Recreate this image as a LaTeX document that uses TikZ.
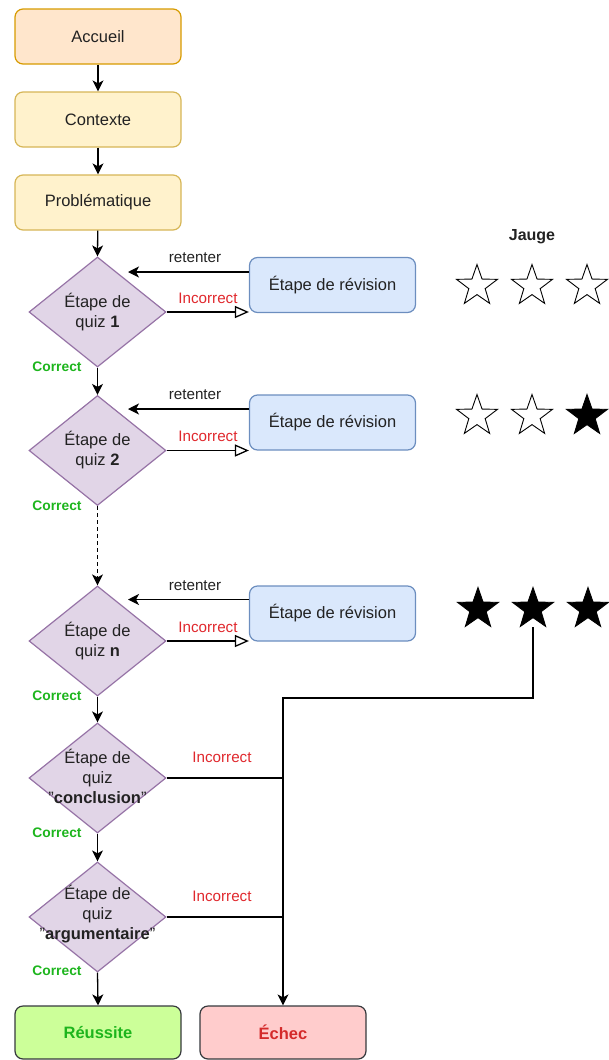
\documentclass[tikz,border=0pt]{standalone}
\usepackage{fontspec}
\setmainfont{Liberation Sans}
\usetikzlibrary{shapes.geometric,arrows.meta}
\definecolor{accF}{HTML}{FFE6CC}\definecolor{accD}{HTML}{D79B00}
\definecolor{yelF}{HTML}{FFF2CC}\definecolor{yelD}{HTML}{D6B656}
\definecolor{purF}{HTML}{E1D5E7}\definecolor{purD}{HTML}{9673A6}
\definecolor{bluF}{HTML}{DAE8FC}\definecolor{bluD}{HTML}{6C8EBF}
\definecolor{grnF}{HTML}{CCFF99}\definecolor{redF}{HTML}{FFCCCC}
\definecolor{edgeD}{HTML}{36393D}
\definecolor{txt}{HTML}{222222}
\definecolor{okG}{HTML}{1DB51D}
\definecolor{badR}{HTML}{E0282D}
\definecolor{failR}{HTML}{D42A2A}
\tikzset{
  box/.style={rectangle, rounded corners=8pt, minimum width=166pt, minimum height=55pt,
    line width=1.2pt, inner sep=0pt, font=\fontsize{16.5}{20}\selectfont, text=txt},
  dia/.style={diamond, draw=purD, fill=purF, line width=1.2pt, minimum width=137pt,
    minimum height=110pt, inner sep=0pt},
  diatxt/.style={align=center, inner sep=0pt, font=\fontsize{16.5}{20}\selectfont, text=txt},
  arr/.style={line width=1.3pt, draw=black, -{Stealth[length=11pt,width=11pt,inset=3pt]}},
  openarr/.style={line width=1.3pt, draw=black, -{Triangle[open,length=14pt,width=12pt]}},
  plain/.style={line width=1.3pt, draw=black},
  lbl/.style={inner sep=0pt, font=\fontsize{15.2}{18}\selectfont, text=txt},
  badlbl/.style={inner sep=0pt, font=\fontsize{15.2}{18}\selectfont, text=badR},
  corr/.style={inner sep=0pt, font=\bfseries\fontsize{13.8}{16}\selectfont, text=okG},
  starO/.style={star, star points=5, star point ratio=2.5, minimum size=43pt,
    inner sep=0pt, outer sep=0pt, draw=black, line width=0.9pt, fill=white},
  starF/.style={starO, fill=black},
}
\begin{document}
\begin{tikzpicture}[x=1pt,y=-1pt]
\useasboundingbox (0,0) rectangle (608,1060);
% top boxes
\node[box, draw=accD, fill=accF] (acc) at (98,36.5) {Accueil};
\node[box, draw=yelD, fill=yelF] (ctx) at (98,119.5) {Contexte};
\node[box, draw=yelD, fill=yelF] (pb) at (98,202.5) {Problématique};
% diamonds
\node[dia] (d1) at (97.5,312) {};
\node[diatxt] (t1) at (97.5,312) {Étape de\\quiz \textbf{1}};
\node[dia] (d2) at (97.5,450.5) {};
\node[diatxt] (t2) at (97.5,450.5) {Étape de\\quiz \textbf{2}};
\node[dia] (dn) at (97.5,641) {};
\node[diatxt] (tn) at (97.5,641) {Étape de\\quiz \textbf{n}};
\node[dia] (dc) at (97.5,778) {};
\node[diatxt] (tc) at (97.5,776) {Étape de\\quiz\\"\textbf{conclusion}"};
\node[dia] (da) at (97.5,917) {};
\node[diatxt] (ta) at (97.5,914) {Étape de\\quiz\\"\textbf{argumentaire}"};
% revision boxes
\node[box, draw=bluD, fill=bluF] (r1) at (332.5,285) {Étape de révision};
\node[box, draw=bluD, fill=bluF] (r2) at (332.5,422.5) {Étape de révision};
\node[box, draw=bluD, fill=bluF] (rn) at (332.5,613.5) {Étape de révision};
% end boxes
\node[box, draw=edgeD, fill=grnF, minimum height=53pt, text=okG, font=\bfseries\fontsize{16.5}{20}\selectfont] (ok) at (98,1032.5) {Réussite};
\node[box, draw=edgeD, fill=redF, minimum height=53pt, text=failR, font=\bfseries\fontsize{16.5}{20}\selectfont] (ko) at (283,1032.5) {Échec};
% main chain
\draw[arr] (acc) -- (ctx);
\draw[arr] (ctx) -- (pb);
\draw[arr] (pb) -- (d1.north);
\draw[arr] (d1.south) -- (d2.north);
\draw[arr, dashed, dash pattern=on 4pt off 3pt] (d2.south) -- (dn.north);
\draw[arr] (dn.south) -- (dc.north);
\draw[arr] (dc.south) -- (da.north);
\draw[arr] (da.south) -- (ok.north);
% retenter / incorrect loops
\coordinate (c1) at (128,272);
\coordinate (c2) at (128,409);
\coordinate (c3) at (128,599.5);
\draw[arr] (r1.west |- c1) -- (c1);
\draw[arr] (r2.west |- c2) -- (c2);
\draw[arr] (rn.west |- c3) -- (c3);
\draw[openarr] (d1.east) -- (d1.east -| r1.west);
\draw[openarr] (d2.east) -- (d2.east -| r2.west);
\draw[openarr] (dn.east) -- (dn.east -| rn.west);
\node[lbl] (rt1) at (195,258) {retenter};
\node[lbl] (rt2) at (195,395) {retenter};
\node[lbl] (rt3) at (195,585.5) {retenter};
\node[badlbl] (i1) at (208,298) {Incorrect};
\node[badlbl] (i2) at (208,436.5) {Incorrect};
\node[badlbl] (i3) at (208,627) {Incorrect};
\node[badlbl] (i4) at (222,757) {Incorrect};
\node[badlbl] (i5) at (222,896) {Incorrect};
\node[corr] (k1) at (57,367) {Correct};
\node[corr] (k2) at (57,505.5) {Correct};
\node[corr] (k3) at (57,696) {Correct};
\node[corr] (k4) at (57,833) {Correct};
\node[corr] (k5) at (57,971) {Correct};
% gauge
\node[inner sep=0pt, font=\bfseries\fontsize{16}{19}\selectfont, text=txt] (jg) at (532,237) {Jauge};
\node[starO] (s11) at (477,286) {};
\node[starO] (s12) at (532,286) {};
\node[starO] (s13) at (587,286) {};
\node[starO] (s21) at (477,416) {};
\node[starO] (s22) at (532,416) {};
\node[starF] (s23) at (587,416) {};
\node[starF] (s31) at (478,609) {};
\node[starF] (s32) at (533,609) {};
\node[starF] (s33) at (588,609) {};
% failure routing
\coordinate (j1) at (533,627);
\coordinate (j2) at (283,698);
\draw[arr] (j1) |- (j2) -- (ko.north);
\draw[plain] (dc.east) -- (dc.east -| ko.north);
\draw[plain] (da.east) -- (da.east -| ko.north);
\end{tikzpicture}
\end{document}
